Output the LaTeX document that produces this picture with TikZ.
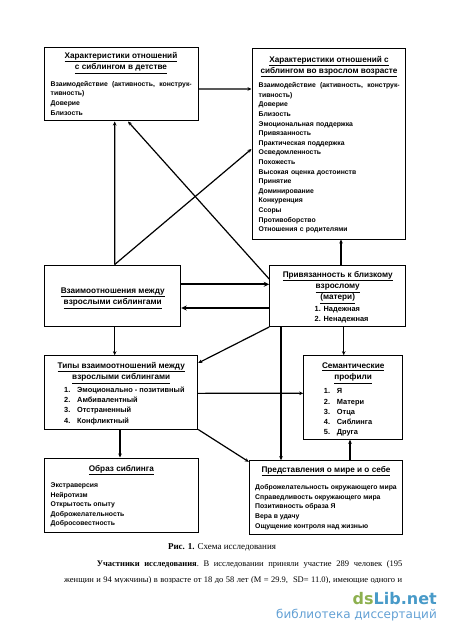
\documentclass[tikz,border=0pt]{standalone}
\usepackage{fontspec}
\setmainfont{Liberation Sans}
\newfontfamily\paperfont{Liberation Serif}
\newfontfamily\logofont{DejaVu Sans}
\usepackage{tikz}
\usetikzlibrary{arrows.meta,positioning,calc}
\definecolor{lgreen}{RGB}{141,176,79}
\definecolor{lblue}{RGB}{72,154,200}
\definecolor{lsky}{RGB}{98,160,212}
\newcommand{\justline}[1]{\hbox to \linewidth{#1}}
\newcommand{\firstline}{\rule{0pt}{6pt}}
\tikzset{
  studyBox/.style={draw=black, line width=1pt, fill=white, inner sep=0pt},
  boxTitle/.style={align=center, inner sep=0pt, font=\fontsize{8.2}{11.3}\selectfont\bfseries},
  boxList/.style={align=left, inner sep=0pt, anchor=north west,
                  font=\fontsize{6.85}{9.6}\selectfont\bfseries},
  numList/.style={boxList, font=\fontsize{7.4}{10.3}\selectfont\bfseries},
  linkArrow/.style={-{Stealth[length=4pt,width=3.6pt]}, line width=1.2pt, draw=black},
  heavyArrow/.style={-{Stealth[length=5.5pt,width=5pt]}, line width=1.9pt, draw=black},
  paperLine/.style={inner sep=0pt, anchor=base west, font=\fontsize{8.5}{10}\selectfont\paperfont}
}
\begin{document}
\begin{tikzpicture}[x=1pt,y=-1pt]
  \useasboundingbox (0,0) rectangle (450,636);
  % boxes
  \node[studyBox, minimum width=153.3pt, minimum height=73.3pt] (child) at (121.35,84.35) {};
  \node[studyBox, minimum width=153.7pt, minimum height=190pt] (adult) at (328.85,144) {};
  \node[studyBox, minimum width=136pt, minimum height=61pt] (rel) at (112.7,295.5) {};
  \node[studyBox, minimum width=136pt, minimum height=61.5pt] (attach) at (337.7,295.75) {};
  \node[studyBox, minimum width=153pt, minimum height=73.3pt] (types) at (121.2,392.35) {};
  \node[studyBox, minimum width=99pt, minimum height=83.6pt] (sem) at (353.2,397.5) {};
  \node[studyBox, minimum width=153.3pt, minimum height=74pt] (image) at (121.35,495) {};
  \node[studyBox, minimum width=153.4pt, minimum height=73.6pt] (world) at (326,497.5) {};

  % box texts
  \node[boxTitle] (childT) at (121,63) {\underline{Характеристики отношений}\\\underline{с сиблингом в детстве}};
  \node[boxList, text width=141pt] (childL) at (50.5,81) {\justline{Взаимодействие\hfill(активность,\hfill конструк-}\\тивность)\\Доверие\\Близость};
  \node[boxTitle] (adultT) at (329,66.5) {\underline{Характеристики отношений с}\\\underline{сиблингом во взрослом возрасте}};
  \node[boxList, text width=141pt] (adultL) at (258.5,82.5) {\justline{Взаимодействие\hfill(активность,\hfill конструк-}\\тивность)\\Доверие\\Близость\\Эмоциональная поддержка\\Привязанность\\Практическая поддержка\\Осведомленность\\Похожесть\\Высокая оценка достоинств\\Принятие\\Доминирование\\Конкуренция\\Ссоры\\Противоборство\\Отношения с родителями};
  \node[boxTitle] (relT) at (112.7,298) {\underline{Взаимоотношения между}\\\underline{взрослыми сиблингами}};
  \node[boxTitle] (attachT) at (337.7,287.5) {\underline{Привязанность к близкому}\\\underline{взрослому}\\\underline{(матери)}};
  \node[numList] (attachL) at (314.5,305) {\firstline 1. Надежная\\2. Ненадежная};
  \node[boxTitle] (typesT) at (121.2,373) {\underline{Типы взаимоотношений между}\\\underline{взрослыми сиблингами}};
  \node[numList] (typesN) at (64,386) {\firstline 1.\\2.\\3.\\4.};
  \node[numList] (typesL) at (77,386) {\firstline Эмоционально - позитивный\\Амбивалентный\\Отстраненный\\Конфликтный};
  \node[boxTitle] (semT) at (353.2,373) {\underline{Семантические}\\\underline{профили}};
  \node[numList] (semN) at (323.7,387.5) {\firstline 1.\\2.\\3.\\4.\\5.};
  \node[numList] (semL) at (336.7,387.5) {\firstline Я\\Матери\\Отца\\Сиблинга\\Друга};
  \node[boxTitle] (imageT) at (121.35,470) {\underline{Образ сиблинга}};
  \node[boxList] (imageL) at (50.5,482.5) {Экстраверсия\\Нейротизм\\Открытость опыту\\Доброжелательность\\Добросовестность};
  \node[boxTitle] (worldT) at (326,471) {\underline{Представления о мире и о себе}};
  \node[boxList] (worldL) at (255,484.5) {Доброжелательность окружающего мира\\Справедливость окружающего мира\\Позитивность образа Я\\Вера в удачу\\Ощущение контроля над жизнью};

  % connectors
  \draw[linkArrow] ([yshift=-4.6pt]child.east) -- ([yshift=55pt]adult.west);
  \draw[linkArrow] ([xshift=2pt]rel.north) -- ([xshift=-6.65pt]child.south);
  \draw[linkArrow] ([xshift=2pt]rel.north) -- ([yshift=-5pt]adult.west);
  \draw[linkArrow] ([yshift=16.75pt]attach.west) -- ([xshift=6.65pt]child.south);
  \draw[linkArrow] ([xshift=3.3pt]attach.north) -- ([xshift=12.15pt]adult.south);
  \draw[heavyArrow] ([yshift=11.2pt]rel.east) -- ([yshift=11.45pt]attach.west);
  \draw[heavyArrow] ([yshift=-12.25pt]attach.west) -- ([yshift=-12.5pt]rel.east);
  \draw[linkArrow] ([xshift=2pt]rel.south) -- ([xshift=-6.5pt]types.north);
  \draw[linkArrow] (attach.south west) -- ([yshift=29.35pt]types.east);
  \draw[linkArrow] ([xshift=6pt]attach.south) -- ([xshift=-9.5pt]sem.north);
  \draw[linkArrow] ([xshift=-56.7pt]attach.south) -- ([xshift=-45pt]world.north);
  \draw[linkArrow] ([yshift=-1pt]types.east) -- ([yshift=4.2pt]sem.west);
  \draw[linkArrow] ([xshift=-1.2pt]types.south) -- ([xshift=-1.35pt]image.north);
  \draw[linkArrow] (types.south east) -- ([yshift=-1.6pt]world.north west);
  \draw[linkArrow] ([xshift=24pt]world.north) -- ([xshift=-3.2pt]sem.south);

  % caption and running text
  \node[inner sep=0pt, font=\fontsize{9}{10}\selectfont\paperfont] (caption) at (222,547) {\textbf{Рис. 1.} Схема исследования};
  \node[paperLine, text width=305.5pt, align=justify] (paraA) at (96.7,566.5) {\justline{\textbf{Участники\hfill исследования}.\hfill В\hfill исследовании\hfill приняли\hfill участие\hfill 289\hfill человек\hfill (195}};
  \begin{scope}
    \clip (60,570) rectangle (410,582);
    \node[paperLine, text width=338pt, align=justify] (paraB) at (64,582) {\justline{женщин и 94 мужчины) в возрасте от 18 до 58 лет (M = 29.9,\ \ SD= 11.0), имеющие одного и}};
  \end{scope}

  % site mark
  \node[inner sep=0pt, anchor=east, font=\fontsize{16}{20}\selectfont\logofont\bfseries] (logo) at (437,599) {\textcolor{lgreen}{ds}\textcolor{lblue}{Lib.net}};
  \node[inner sep=0pt, anchor=east, text=lsky, font=\fontsize{12}{14}\selectfont\logofont] (logoSub) at (437,615) {библиотека диссертаций};
\end{tikzpicture}
\end{document}
